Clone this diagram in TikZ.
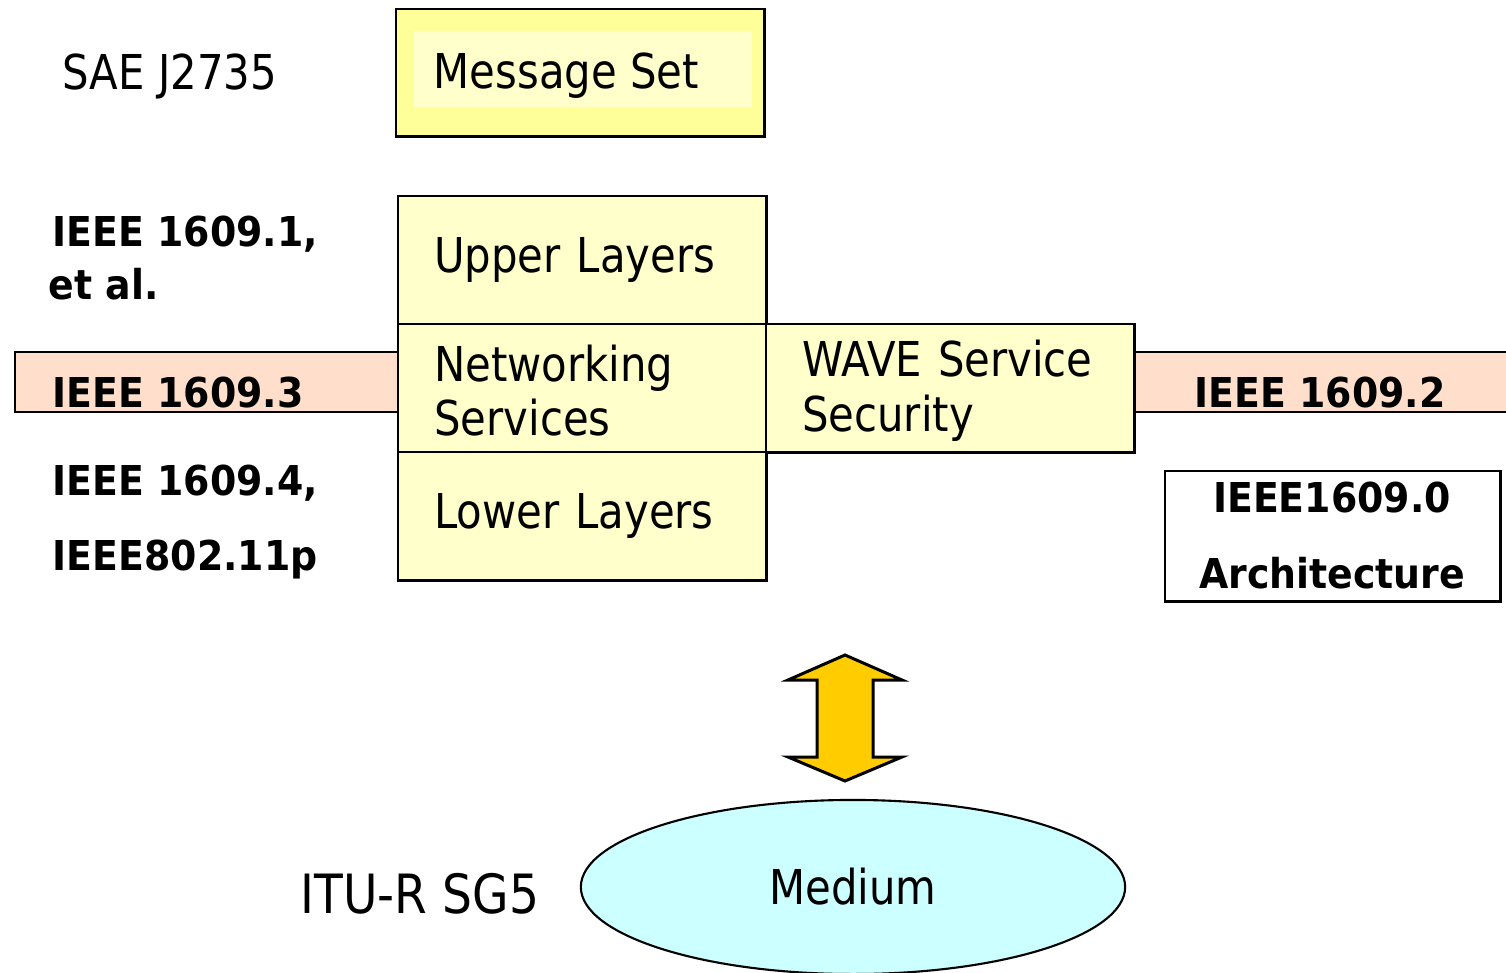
\documentclass[tikz,border=0pt]{standalone}
\usepackage{fontspec}
\setmainfont{DejaVu Sans}[FakeStretch=0.87]
\newfontfamily\labfont{DejaVu Sans}[FakeStretch=0.92]
\usetikzlibrary{shapes.geometric}

\definecolor{paleyellow}{RGB}{255,255,204}
\definecolor{msgyellow}{RGB}{255,255,153}
\definecolor{peach}{RGB}{255,223,204}
\definecolor{mediumcyan}{RGB}{204,255,255}
\definecolor{arrowgold}{RGB}{255,204,0}

\begin{document}
\begin{tikzpicture}[x=0.01cm,y=-0.01cm,
  layerbox/.style={draw=black, line width=0.7pt, fill=paleyellow,
    anchor=north west, text width=2.96cm, inner xsep=0.36cm, inner ysep=0pt,
    minimum height=1.28cm, align=left,
    font=\fontsize{13.66}{15.6}\selectfont},
  band/.style={draw=black, line width=0.7pt, fill=peach, anchor=north west,
    minimum height=0.60cm, inner sep=0pt},
  stdlabel/.style={anchor=base west, inner sep=0pt,
    font=\labfont\bfseries\fontsize{11.7}{14}\selectfont},
  plainlabel/.style={anchor=base west, inner sep=0pt,
    font=\fontsize{13.66}{15.6}\selectfont}]

\useasboundingbox (0,0) rectangle (1506,973);
\clip (0,0) rectangle (1506,973);

% message set on top
\node[draw=black, line width=0.7pt, fill=msgyellow, anchor=north west,
  minimum width=3.68cm, minimum height=1.27cm, inner sep=0pt] (msgouter) at (395,8) {};
\node[fill=paleyellow, anchor=north west, minimum width=3.38cm, minimum height=0.76cm,
  inner sep=0pt] (msginner) at (413,30) {};
\node[plainlabel] (msg) at (433,89) {Message Set};
\node[plainlabel] (sae) at (62,90) {SAE J2735};

% horizontal standard bands
\node[band, minimum width=3.83cm] (band3) at (14,351) {};
\node[band, minimum width=3.90cm] (band2) at (1133,351) {};

% protocol stack
\node[layerbox] (upper) at (397,195) {Upper Layers};
\node[layerbox] (net) at (397,323) {\rule{0pt}{0.41cm}Networking\\Services};
\node[layerbox] (lower) at (397,451) {Lower Layers};
\node[layerbox] (wave) at (765,323) {\rule{0pt}{0.41cm}WAVE Service\\Security};

% standards on the left
\node[stdlabel] (s1) at (52,247) {IEEE 1609.1,};
\node[stdlabel] (s1b) at (48,299) {et al.};
\node[stdlabel] (s3) at (52,407) {IEEE 1609.3};
\node[stdlabel] (s4) at (52,495) {IEEE 1609.4,};
\node[stdlabel] (s11p) at (52,570) {IEEE802.11p};

% standards on the right
\node[stdlabel] (s2) at (1194,407) {IEEE 1609.2};
\node[draw=black, line width=0.7pt, fill=white, anchor=north west,
  minimum width=3.35cm, minimum height=1.30cm, inner sep=0pt] (arch) at (1164,470) {};
\node[anchor=base, inner sep=0pt, font=\labfont\bfseries\fontsize{11.7}{14}\selectfont]
  (s0) at (1332,512) {IEEE1609.0};
\node[anchor=base, inner sep=0pt, font=\labfont\bfseries\fontsize{11.7}{14}\selectfont]
  (s0b) at (1332,588) {Architecture};

% two-way arrow to the medium
\draw[line width=0.85pt, fill=arrowgold, line join=miter]
  (845,655) -- (902,680) -- (873,680) -- (873,757) -- (902,757) -- (845,781)
  -- (788,757) -- (817,757) -- (817,680) -- (788,680) -- cycle;

% medium
\node[ellipse, draw=black, line width=0.6pt, fill=mediumcyan,
  minimum width=5.44cm, minimum height=1.74cm, inner sep=0pt,
  font=\fontsize{13.66}{15.6}\selectfont] (medium) at (853,887) {Medium};
\node[anchor=base west, inner sep=0pt, font=\fontsize{15.4}{18}\selectfont]
  (itu) at (300,913) {ITU-R SG5};

\end{tikzpicture}
\end{document}
